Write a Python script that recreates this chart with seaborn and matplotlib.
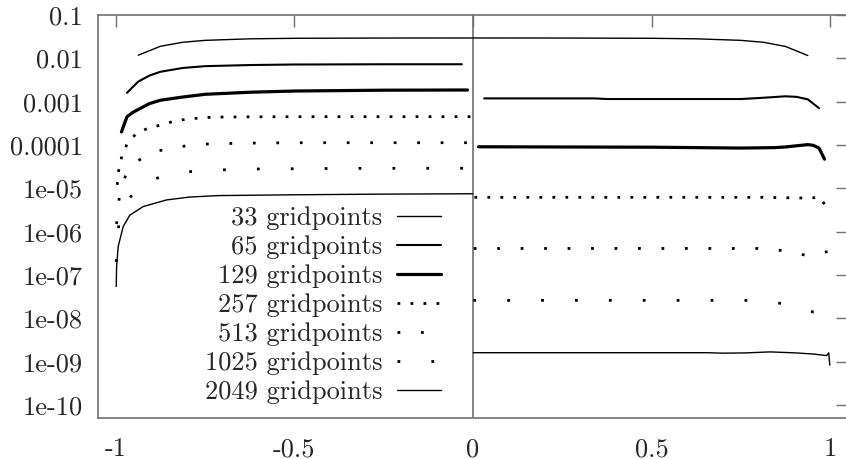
import numpy as np
import pandas as pd
import seaborn as sns
import matplotlib.pyplot as plt

# Error curves (left half / right half of each run)
x33 = [-0.9375, -0.875, -0.8125, -0.75, -0.625, -0.5, -0.25, 0.0,
       0.25, 0.5, 0.625, 0.75, 0.8125, 0.875, 0.9375]
y33 = [0.0118, 0.0190, 0.0235, 0.0260, 0.0282, 0.0290, 0.0294, 0.0295,
       0.0294, 0.0290, 0.0282, 0.0260, 0.0235, 0.0188, 0.0116]

x65_left = [-0.96875, -0.9375, -0.90625, -0.875, -0.8125, -0.75, -0.625, -0.5, -0.25, -0.03125]
y65_left = [0.0016, 0.0029, 0.0040, 0.0049, 0.0060, 0.0066, 0.0070, 0.0072, 0.0073, 0.0073]
x65_right = [0.03125, 0.25, 0.34, 0.375, 0.75, 0.8125, 0.875, 0.90625, 0.9375, 0.96875]
y65_right = [0.00119, 0.00119, 0.00119, 0.00115, 0.00115, 0.00123, 0.00133, 0.00129, 0.00113, 0.00071]

x129_left = [-0.984375, -0.96875, -0.953125, -0.9375, -0.90625, -0.875, -0.8125,
             -0.75, -0.625, -0.5, -0.25, -0.015625]
y129_left = [0.00020, 0.00045, 0.00056, 0.00066, 0.00090, 0.00108, 0.00128,
             0.00148, 0.00165, 0.00176, 0.00184, 0.00186]
x129_right = [0.015625, 0.25, 0.5, 0.75, 0.84375, 0.875, 0.90625, 0.9375, 0.953125, 0.96875, 0.984375]
y129_right = [9.1e-5, 9.0e-5, 8.9e-5, 8.5e-5, 8.7e-5, 9.0e-5, 9.6e-5, 1.02e-4, 9.8e-5, 8.5e-5, 4.7e-5]

x257_left = [-0.99609, -0.9916, -0.983, -0.969, -0.944, -0.910, -0.874, -0.840,
             -0.801, -0.765, -0.728, -0.6, -0.4, -0.2, -0.004]
y257_left = [1.2e-5, 2.8e-5, 5.6e-5, 1.04e-4, 1.8e-4, 2.45e-4, 2.9e-4, 3.5e-4,
             3.96e-4, 4.2e-4, 4.4e-4, 4.48e-4, 4.5e-4, 4.5e-4, 4.5e-4]
x257_right = [0.004, 0.25, 0.5, 0.75, 0.826, 0.86, 0.9, 0.94, 0.972, 0.99, 0.996]
y257_right = [6.2e-6, 6.2e-6, 6.2e-6, 6.2e-6, 6.2e-6, 6.1e-6, 6.0e-6, 6.0e-6, 6.2e-6, 3.6e-6, 3.3e-6]

x513_left = [-0.998, -0.994, -0.986, -0.955, -0.896, -0.832, -0.767, -0.65, -0.5, -0.25, -0.002]
y513_left = [1.5e-6, 3.5e-6, 1.2e-5, 3.6e-5, 6.9e-5, 8.9e-5, 1.04e-4, 1.1e-4, 1.13e-4, 1.13e-4, 1.13e-4]
x513_right = [0.002, 0.25, 0.5, 0.78, 0.811, 0.874, 0.936, 0.995, 0.999]
y513_right = [4.1e-7, 4.1e-7, 4.1e-7, 4.1e-7, 4.1e-7, 3.6e-7, 2.8e-7, 3.5e-7, 2.2e-7]

x1025_left = [-0.999, -0.997, -0.989, -0.936, -0.852, -0.759, -0.6, -0.3, -0.001]
y1025_left = [2e-7, 4.5e-7, 2.7e-6, 1.2e-5, 2.15e-5, 2.6e-5, 2.8e-5, 2.9e-5, 2.9e-5]
x1025_right = [0.001, 0.25, 0.5, 0.776, 0.866, 0.953, 0.999]
y1025_right = [2.6e-8, 2.6e-8, 2.6e-8, 2.6e-8, 2.2e-8, 1.4e-8, 1.4e-8]

x2049_left = [-0.999, -0.998, -0.9936, -0.9796, -0.961, -0.9235, -0.858, -0.793,
              -0.713, -0.5, -0.25, -0.001]
y2049_left = [5.4e-8, 1.5e-7, 4.5e-7, 1.3e-6, 2.4e-6, 3.8e-6, 5.4e-6, 6.3e-6,
              6.8e-6, 7.1e-6, 7.35e-6, 7.5e-6]
x2049_right = [0.001, 0.25, 0.5, 0.655, 0.7, 0.76, 0.832, 0.9, 0.953, 0.99, 0.996, 0.999]
y2049_right = [1.61e-9, 1.61e-9, 1.61e-9, 1.61e-9, 1.57e-9, 1.59e-9, 1.68e-9, 1.6e-9,
               1.5e-9, 1.38e-9, 1.6e-9, 8.3e-10]

labels = ["33 gridpoints", "65 gridpoints", "129 gridpoints", "257 gridpoints",
          "513 gridpoints", "1025 gridpoints", "2049 gridpoints"]
yticks = [1e-1, 1e-2, 1e-3, 1e-4, 1e-5, 1e-6, 1e-7, 1e-8, 1e-9, 1e-10]
ytick_labels = ["0.1", "0.01", "0.001", "0.0001", "1e-05", "1e-06",
                "1e-07", "1e-08", "1e-09", "1e-10"]
xticks = [-1, -0.5, 0, 0.5, 1]
xtick_labels = ["-1", "-0.5", "0", "0.5", "1"]

sns.set_style("white")
plt.rcParams["font.family"] = ["cmr10", "DejaVu Serif"]
plt.rcParams["axes.unicode_minus"] = False
plt.rcParams["font.size"] = 19

FRAME = "#707070"

fig = plt.figure(figsize=(8.46, 4.59), dpi=100)
ax = fig.add_axes([98 / 846, 41 / 459, 750 / 846, 403 / 459])
ax.set_yscale("log")

styles = [
    dict(lw=1.0),
    dict(lw=1.5),
    dict(lw=2.3),
    dict(lw=2.0, linestyle=(0, (1, 3.68))),
    dict(lw=2.0, linestyle=(0, (1, 7.45))),
    dict(lw=2.0, linestyle=(0, (1, 11.2))),
    dict(lw=1.0),
]
segments = [
    [(x33, y33)],
    [(x65_left, y65_left), (x65_right, y65_right)],
    [(x129_left, y129_left), (x129_right, y129_right)],
    [(x257_left, y257_left), (x257_right, y257_right)],
    [(x513_left, y513_left), (x513_right, y513_right)],
    [(x1025_left, y1025_left), (x1025_right, y1025_right)],
    [(x2049_left, y2049_left), (x2049_right, y2049_right)],
]

ax.axvline(0, color=FRAME, lw=1.2, zorder=1)

for label, style, segs in zip(labels, styles, segments):
    for i, (xs, ys) in enumerate(segs):
        df = pd.DataFrame({"x": xs, "y": ys})
        sns.lineplot(data=df, x="x", y="y", ax=ax, color="black", sort=False,
                     estimator=None, label=label if i == 0 else None,
                     dash_capstyle="butt", **style)

ax.set_xlim(-1.05, 1.05)
ax.set_ylim(10 ** -10.3, 0.1)
ax.minorticks_off()
ax.set_xticks(xticks)
ax.set_xticklabels(xtick_labels)
ax.set_yticks(yticks)
ax.set_yticklabels(ytick_labels)
ax.set_xlabel("")
ax.set_ylabel("")
ax.tick_params(which="major", direction="in", length=8.6, width=1.0, color=FRAME,
               top=True, right=True, labelsize=19)
ax.tick_params(axis="y", pad=11)
ax.tick_params(axis="x", pad=14)
for sp in ax.spines.values():
    sp.set_color(FRAME)
    sp.set_linewidth(1.2)

handles, labs = ax.get_legend_handles_labels()
ax.legend(handles, labs, loc="center right", bbox_to_anchor=(441 / 846, 1 - 305 / 459),
          bbox_transform=fig.transFigure, frameon=False, markerfirst=False,
          alignment="right", borderpad=0, borderaxespad=0, handlelength=1.67,
          handletextpad=0.55, labelspacing=0.2, fontsize=19)

fig.savefig("out.png", dpi=100)
